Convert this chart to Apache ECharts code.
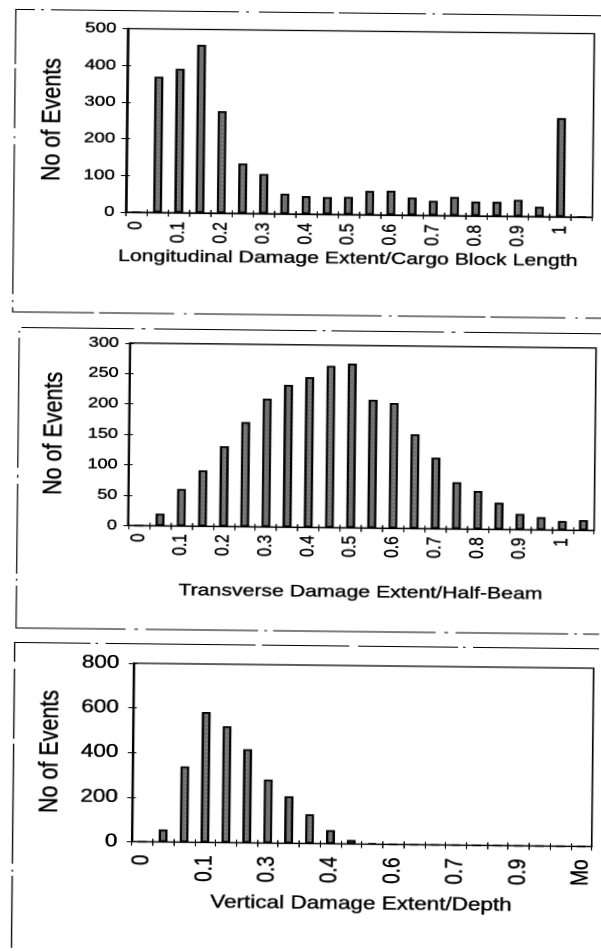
<!DOCTYPE html>
<html>
<head>
<meta charset="utf-8">
<title>Damage extent histograms</title>
<script src="https://cdn.jsdelivr.net/npm/echarts@6/dist/echarts.min.js"></script>
<style>
  html, body { margin: 0; padding: 0; background: #fff; overflow: hidden; width: 601px; height: 951px; }
  /* the sheet is drawn narrow and stretched sideways, with a slight tilt */
  #chart {
    position: absolute; left: 0; top: 0;
    width: 481px; height: 951px;
    transform-origin: 0 0;
    transform: translate(5.1px, -3.2px) rotate(0.62deg) scaleX(1.25);
  }
</style>
</head>
<body>
<div id="chart"></div>
<script>
// histogram bins (upper bin edges) shared by the three panels
const bins = ['0','0.05','0.1','0.15','0.2','0.25','0.3','0.35','0.4','0.45','0.5',
              '0.55','0.6','0.65','0.7','0.75','0.8','0.85','0.9','0.95','1','More'];

// number of events per bin
const longEvents  = [0, 370, 392, 458, 278, 136, 108, 55, 49, 47, 48, 65, 66, 48, 40, 51, 39, 39, 45, 27, 269, 0];
const transEvents = [0, 20, 61, 92, 132, 172, 211, 234, 247, 266, 270, 211, 206, 155, 117, 77, 63, 44, 26, 21, 15, 17];
const vertEvents  = [0, 56, 340, 585, 522, 420, 285, 211, 131, 61, 18, 3, 0, 0, 0, 0, 0, 0, 0, 0, 0, 0];

// category tick labels as printed under each axis
const longTicks  = ['0','','0.1','','0.2','','0.3','','0.4','','0.5','','0.6','','0.7','','0.8','','0.9','','1',''];
const transTicks = ['0','','0.1','','0.2','','0.3','','0.4','','0.5','','0.6','','0.7','','0.8','','0.9','','1',''];
const vertTicks  = ['0','','','0.1','','','0.3','','','0.4','','','0.6','','','0.7','','','0.9','','','Mo'];

// axis titles
const yTitle = 'No of Events';
const longTitle  = 'Longitudinal Damage Extent/Cargo Block Length';
const transTitle = 'Transverse Damage Extent/Half-Beam';
const vertTitle  = 'Vertical Damage Extent/Depth';

// value axis ranges
const longMax = 500, longStep = 100;
const transMax = 300, transStep = 50;
const vertMax = 800, vertStep = 200;

const FONT = '"Liberation Sans", Arial, Helvetica, sans-serif';
// a thin outline thickens the printed-looking text a little
const INK = { color: '#000', textBorderColor: '#000', textBorderWidth: 0.35 };

function stipple() {
  const c = document.createElement('canvas');
  c.width = 4; c.height = 4;
  const g = c.getContext('2d');
  g.fillStyle = '#a8a8a8';
  g.fillRect(0, 0, 4, 4);
  g.fillStyle = '#3c3c3c';
  for (let y = 0; y < 4; y++) {
    for (let x = 0; x < 4; x++) {
      if ((x + y) % 2 === 0) g.fillRect(x, y, 1, 1);
    }
  }
  g.fillStyle = '#dcdcdc';
  g.fillRect(3, 0, 1, 1);
  return c;
}
const barFill = { image: stipple(), repeat: 'repeat' };

const panels = [
  { data: longEvents, ticks: longTicks, title: longTitle, max: longMax, step: longStep,
    grid: { left: 98.3, top: 30.5, width: 373.3, height: 183.5 },
    yFont: 15, xFont: 15.5, titleFont: 17, yTitleFont: 21.5,
    yMargin: 9, xMargin: 9, yNameGap: 48, xNameGap: 36, xNamePad: [0, 17, 0, 0], xLabelPad: [0, 0, 0, 0] },
  { data: transEvents, ticks: transTicks, title: transTitle, max: transMax, step: transStep,
    grid: { left: 103.1, top: 344.8, width: 372.6, height: 182.5 },
    yFont: 14.5, xFont: 15.5, titleFont: 17, yTitleFont: 21.5,
    yMargin: 9, xMargin: 8, yNameGap: 49, xNameGap: 56, xNamePad: [0, 0, 0, 0], xLabelPad: [0, 0, 0, 0] },
  { data: vertEvents, ticks: vertTicks, title: vertTitle, max: vertMax, step: vertStep,
    grid: { left: 108.6, top: 665, width: 368, height: 178.4 },
    yFont: 18, xFont: 19, titleFont: 18, yTitleFont: 21.5,
    yMargin: 11.5, xMargin: 13, yNameGap: 55, xNameGap: 51, xNamePad: [0, 0, 0, 0], xLabelPad: [0, 0, 13, 0] }
];

const grid = [], xAxis = [], yAxis = [], series = [];
panels.forEach((p, i) => {
  grid.push(Object.assign({ show: true, borderColor: '#000', borderWidth: 1.3, backgroundColor: 'transparent' }, p.grid));

  // main category axis with labels and title
  xAxis.push({
    type: 'category', gridIndex: i, data: bins, position: 'bottom',
    axisLine: { lineStyle: { color: '#000', width: 1.3 } },
    axisTick: { show: true, interval: 0, length: 4, lineStyle: { color: '#000', width: 1 } },
    axisLabel: Object.assign({
      interval: 0, rotate: 90, margin: p.xMargin,
      fontFamily: FONT, fontSize: p.xFont, padding: p.xLabelPad,
      formatter: (v, idx) => p.ticks[idx]
    }, INK),
    name: p.title, nameLocation: 'middle', nameGap: p.xNameGap,
    nameTextStyle: Object.assign({ fontFamily: FONT, fontSize: p.titleFont, padding: p.xNamePad }, INK),
    splitLine: { show: false }
  });
  // inner half of the crossing tick marks
  xAxis.push({
    type: 'category', gridIndex: i, data: bins, position: 'bottom',
    axisLine: { show: false },
    axisTick: { show: true, inside: true, interval: 0, length: 3, lineStyle: { color: '#000', width: 1 } },
    axisLabel: { show: false }, splitLine: { show: false }
  });

  yAxis.push({
    type: 'value', gridIndex: i, min: 0, max: p.max, interval: p.step, position: 'left',
    axisLine: { show: true, lineStyle: { color: '#000', width: 1.7 } },
    axisTick: { show: true, length: 4, lineStyle: { color: '#000', width: 1 } },
    axisLabel: Object.assign({ margin: p.yMargin, fontFamily: FONT, fontSize: p.yFont }, INK),
    name: yTitle, nameLocation: 'middle', nameGap: p.yNameGap,
    nameTextStyle: Object.assign({ fontFamily: FONT, fontSize: p.yTitleFont }, INK),
    splitLine: { show: false }
  });
  yAxis.push({
    type: 'value', gridIndex: i, min: 0, max: p.max, interval: p.step, position: 'left',
    axisLine: { show: false },
    axisTick: { show: true, inside: true, length: 3, lineStyle: { color: '#000', width: 1 } },
    axisLabel: { show: false }, splitLine: { show: false }
  });

  series.push({
    type: 'bar', xAxisIndex: 2 * i, yAxisIndex: 2 * i, data: p.data,
    barWidth: '42%',
    itemStyle: { color: barFill, borderColor: '#000', borderWidth: 1.8 },
    emphasis: { disabled: true }
  });
});

// outer chart-area frames (broken, as on the printed page)
function frame(points, dash) {
  return {
    type: 'polyline', silent: true,
    shape: { points: points },
    style: { stroke: '#000', lineWidth: 1, fill: null, lineDash: dash }
  };
}
const graphic = [
  frame([[500, 12.5], [8.7, 12.5], [8.7, 315], [500, 315]], [150, 6, 2, 5, 70, 4, 60, 8, 2, 6]),
  frame([[500, 330.5], [14.2, 330.5], [14.2, 631], [500, 631]], [130, 7, 3, 6, 90, 5, 2, 5]),
  frame([[500, 645.5], [13.3, 645.5], [13.3, 960]], [120, 6, 2, 4, 80, 7, 70, 5])
];

const chart = echarts.init(document.getElementById('chart'), null, { renderer: 'canvas', devicePixelRatio: 2 });
chart.setOption({
  animation: false,
  backgroundColor: '#fff',
  grid: grid,
  xAxis: xAxis,
  yAxis: yAxis,
  series: series,
  graphic: graphic
});
</script>
</body>
</html>
